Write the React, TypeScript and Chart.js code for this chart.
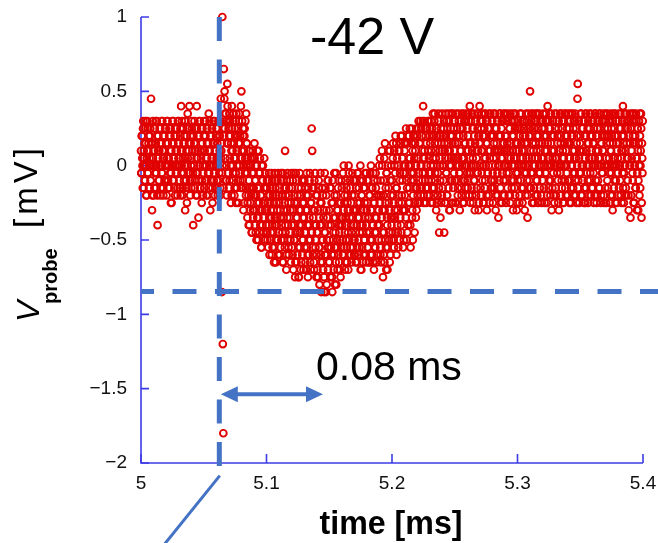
import React, { useEffect, useRef } from "react";
import { Chart, registerables } from "chart.js";

Chart.register(...registerables);

// ---- data: probe signal in ADC counts of 0.05 mV ----
// "even" samples at start + i*0.4 µs, "odd" samples at start + 0.2 µs + i*0.4 µs
const MV_PER_COUNT = 0.05;
const SAMPLE_STEP_MS = 0.0004;
const ODD_OFFSET_MS = 0.0002;
const SEGMENT_STARTS_MS = [5.0, 5.1, 5.2, 5.3];

const probeSeg1 = [
  2,-1,4,0,5,-3,1,3,-2,6,0,-4,2,5,-1,3,-3,1,4,-2,9,0,-6,3,1,
  -4,5,2,-1,6,-3,0,4,-8,2,1,-2,5,3,-4,0,6,-1,2,-3,4,1,-2,5,0,
  3,-4,1,6,-2,0,4,-3,2,5,-1,-5,3,0,6,-2,1,4,-4,2,-1,5,0,-3,3,
  6,-2,1,4,-4,8,0,2,-3,5,-1,3,6,-6,1,-2,4,0,7,-3,2,5,-1,-4,3,
  1,6,-2,4,-8,0,3,-3,5,2,-1,8,-4,1,4,-2,6,0,-3,2,5,-5,3,0,-1,
  4,-3,2,6,0,-2,5,1,-4,3,7,-1,2,-6,4,0,5,-3,1,6,-2,3,-4,2,0,
  5,-2,3,-4,6,1,-1,4,-3,9,2,-17,20,-24,-36,13,9,5,-2,7,0,-4,11,3,6,
  -3,7,1,4,-5,2,8,0,-2,6,3,-4,5,1,-1,7,-3,2,4,-5,6,0,3,-2,8,
  10,1,-3,5,-6,2,4,-1,6,-4,0,3,-7,1,-4,-2,-8,2,-5,0,-3,-9,1,-6,-1,
  -4,3,-8,-2,0,-10,-5,2,-3,-7,-1,-9,1,-6,-4,-11,-2,-8,0,-5,-3,-10,-6,-1,-9,
];
const probeSeg2 = [
  -6,-2,-10,-4,-8,-1,-12,-5,-3,-9,-7,-2,-11,-4,-6,-13,-1,-8,-3,-10,-5,-7,-2,-12,-4,
  -9,-3,-6,-11,-1,-8,-4,-13,-2,-7,-10,-5,2,-9,-3,-12,-6,-1,-8,-11,-4,-7,-2,-10,-5,
  -8,-3,-12,-6,-1,-10,-5,-15,-9,-2,-13,-7,-4,-11,-15,-6,-1,-9,-14,-3,-8,-12,-5,-10,-2,
  -7,-11,-3,-9,-14,-1,-6,-12,-4,-10,-8,-2,-13,-5,-9,5,2,-11,-7,-3,-14,-6,-1,-10,-8,
  -12,-4,-9,-15,-2,-7,-11,-5,-13,-17,-8,-3,-10,-14,-6,-17,-1,-9,-12,-4,-16,-7,-11,-2,-13,
  -6,-10,-15,-3,-8,-12,-17,-5,-9,-14,-1,-11,-7,-13,-16,-4,-10,-6,-12,-2,-9,-14,-8,-5,-11,
  -3,-10,-7,-12,0,-5,-9,-13,-2,-8,-11,-4,-6,-14,-1,-10,-7,-3,-12,-5,-9,-1,-11,-6,-8,
  -4,-12,-2,-9,-6,-13,-1,-7,-10,-3,-11,-5,0,-8,-14,-4,-9,-2,-12,-6,-10,-3,-7,-13,-1,
  -9,-5,-11,-2,-7,-13,-4,-10,0,-6,-12,-3,-8,-1,-14,-5,-9,-11,-3,-7,-12,-2,-6,-10,-4,
  -8,1,-12,-4,-10,2,-6,-15,-2,-9,-13,3,-5,-11,-1,-7,-14,0,-3,-10,-6,2,-12,-4,-8,
];
const probeSeg3 = [
  -2,-9,3,-5,-11,0,-7,4,-3,-12,1,-6,-9,2,-4,-10,-1,3,-8,-5,4,-2,-11,0,-6,
  2,-6,-1,5,-10,-3,3,-8,0,4,-5,1,-11,-2,5,-7,2,-4,-1,4,-9,3,-3,0,-6,
  4,-4,1,6,-2,-5,3,0,5,-3,2,-1,8,-4,6,1,-2,4,-5,0,5,-3,2,6,-1,
  -4,3,0,6,-2,5,-5,1,4,-3,7,-1,2,-6,5,0,-4,3,6,-9,1,-2,4,-5,2,
  7,-3,0,5,-9,2,-5,4,-1,6,-4,3,1,7,-6,2,-2,5,0,-5,4,7,-3,1,6,
  -2,3,-5,7,0,4,-4,1,6,-1,-6,5,2,-3,7,0,-5,4,1,6,-2,3,-4,7,0,
  5,-3,2,6,-1,8,-5,3,0,7,-4,1,5,-2,4,-6,6,0,2,-3,7,-1,4,-5,3,
  0,6,-4,2,7,-2,4,-5,1,5,-3,7,0,3,-6,6,-1,2,-4,5,1,7,-3,4,-2,
  6,-5,1,3,-2,7,0,-4,5,2,-1,6,-7,4,0,7,-3,2,5,-5,1,6,-2,3,-4,
  7,0,-5,4,2,-3,6,1,-1,5,-4,7,3,-2,0,6,-6,4,1,-3,5,7,-1,2,-5,
];
const probeSeg4 = [
  3,-2,6,0,-4,5,1,7,-3,2,-5,4,0,6,-1,3,-4,7,1,-2,-7,5,0,4,-3,
  10,2,-1,6,-5,3,7,0,-3,5,1,-4,6,2,-2,7,-5,4,0,3,-1,6,-4,1,5,
  -2,7,0,4,-5,3,6,-1,2,-4,8,1,-3,5,0,7,-2,3,-6,4,1,6,-4,2,0,
  5,-3,7,1,-1,4,-5,6,2,0,-4,3,7,-2,5,1,-5,6,0,3,-3,7,2,-1,4,
  -4,6,1,5,-2,3,7,-5,0,4,2,-3,6,1,-1,7,-4,5,3,0,11,-2,6,-5,2,
  4,-1,7,0,-4,5,2,6,-3,1,-5,4,7,0,3,-2,6,-4,1,5,-1,7,2,-3,4,
  0,6,-5,3,1,7,-2,4,-4,5,0,2,-3,6,1,7,-5,3,-1,4,2,6,-4,0,5,
  -3,7,1,4,-2,5,0,6,-5,3,2,7,-1,4,-4,6,1,-3,5,0,7,-2,3,-5,4,
  1,6,-3,5,0,7,-4,2,4,-1,8,3,-5,6,0,2,-3,7,1,-2,5,-4,6,0,3,
  -7,5,2,7,-1,4,-5,6,0,3,-3,7,1,-6,5,2,-2,6,-4,4,0,7,-7,3,-1,
];

const probeSeg1Odd = [
  -1,4,1,-3,6,2,0,-2,5,3,-4,1,6,-1,2,4,-3,0,5,-2,3,1,-4,6,0,
  2,-3,5,0,3,-1,6,-4,1,4,-2,2,0,5,-3,3,-1,6,1,-4,2,4,-2,0,5,
  -2,6,0,3,-3,1,5,-1,4,-5,2,0,6,-2,3,1,-3,5,0,-1,4,2,-4,6,1,
  3,0,-3,5,2,-1,6,-4,1,3,-2,4,0,6,-3,2,-5,5,1,-1,3,8,-2,4,0,
  -3,5,2,-1,4,0,6,-2,3,-4,1,5,-1,2,-7,4,0,6,-3,1,3,-2,5,-4,2,
  6,0,-2,4,1,-4,3,5,-1,2,-3,6,0,4,-2,1,5,-5,3,0,-1,6,2,-3,4,
  1,-3,5,0,-2,4,2,-4,6,1,3,-1,0,5,-3,4,10,7,1,6,-2,3,8,-1,5,
  4,-2,6,0,3,-4,5,2,-1,7,1,-3,4,6,-5,2,0,5,-2,3,7,-1,4,1,-3,
  2,6,-2,4,0,-5,5,1,-3,7,3,-1,-5,0,-8,2,-3,-6,1,-4,-9,-1,2,-7,-3,
  -6,1,-2,-9,-4,0,-7,-3,-10,2,-5,-1,-8,-4,-11,0,-6,-2,-9,-7,1,-5,-10,-3,-8,
];
const probeSeg2Odd = [
  -3,-9,-5,-11,-2,-7,-4,-10,-6,-1,-12,-8,-3,-9,-5,-11,-7,-2,-13,-4,-8,-6,-10,-1,-9,
  -5,-12,-7,-2,-10,-4,-9,-1,-13,-6,-3,-11,-8,-4,-14,-2,-7,-10,-5,-12,-3,-9,-6,-13,-1,
  -11,-6,-2,-14,-8,-4,-10,-13,-1,-7,-5,-12,-9,-3,-15,-8,-11,-4,-6,-13,-2,-10,-7,-14,-5,
  -2,-9,-13,-6,-4,-11,-8,-15,-3,-12,-7,-1,-10,-14,-5,-9,-3,-12,-6,-13,-2,-8,-11,-4,-15,
  -9,-14,-6,-3,-11,-16,-8,-1,-12,-5,-10,-13,-4,-7,-15,-9,-12,-3,-17,-6,-10,-2,-14,-8,-11,
  -13,-3,-8,-11,-5,-15,-2,-10,-7,-12,-4,-16,-9,-1,-11,-6,-14,-3,-8,-13,-5,-10,-15,-7,-2,
  -8,-12,-1,-6,-11,-4,-14,-7,-10,-3,-13,-5,-9,0,-12,-6,-2,-11,-8,-13,-4,-7,-10,-2,-12,
  -10,-6,-13,-3,-8,-11,-5,-1,-12,-7,-9,-2,-14,-6,-4,-11,-8,-13,-3,-10,-5,-1,-12,-8,-6,
  -2,-11,-7,-13,-4,-9,-1,-12,-6,-3,-10,-8,-13,-5,-2,-11,-7,-1,-9,-13,-4,-8,-12,-6,0,
  -5,-11,-2,-13,-7,0,-9,-4,-12,1,-6,-10,-3,-14,-1,-8,-11,2,-5,-9,-13,-2,-7,0,-10,
];
const probeSeg3Odd = [
  -7,1,-4,-10,2,-6,-1,-9,3,-3,-8,0,-11,-5,2,-2,-7,4,-9,-4,1,-6,-1,-10,3,
  -4,0,-7,3,-2,-9,4,-5,1,-3,5,-8,0,-1,3,-6,-10,4,-2,1,-5,2,-7,5,-3,
  1,-5,5,-1,3,-3,6,-4,0,4,-2,6,1,-5,2,-1,5,-3,3,0,-4,6,-2,1,4,
  5,-1,-5,2,4,-3,7,0,-4,6,3,-2,1,5,-5,4,-1,7,-3,2,0,-7,5,3,-4,
  0,4,-2,6,3,-5,1,7,-1,-4,5,2,-3,6,0,-6,4,1,7,-2,3,-5,5,-1,2,
  6,-5,1,-2,5,3,-3,7,0,4,-1,2,6,-4,1,5,-2,7,-5,3,0,-3,6,2,-1,
  -2,4,7,-4,1,3,-1,6,-3,2,5,-5,0,7,-2,3,6,-4,1,-1,5,2,-6,4,8,
  3,-3,5,-1,2,6,-5,0,4,7,-2,1,6,-4,3,-1,5,0,7,-5,2,4,-2,6,-3,
  -1,4,7,-3,2,5,-6,1,3,6,-4,0,2,-2,7,-5,4,1,6,-1,3,-4,7,0,2,
  4,-2,6,-1,3,7,0,-4,2,5,-5,1,6,-3,4,2,7,-2,0,6,-4,3,1,-6,5,
];
const probeSeg4Odd = [
  -1,5,2,-5,4,7,-2,3,0,6,1,-3,5,2,-6,4,0,-1,6,3,-4,7,1,-2,5,
  4,-3,7,1,5,-1,2,-5,6,0,3,7,-2,4,-4,1,5,-1,7,-3,2,6,0,-5,3,
  6,1,-3,5,2,-1,7,4,-5,0,3,6,-2,1,5,-4,7,0,2,-3,6,-1,4,-5,7,
  1,-4,6,0,3,-2,5,-6,2,7,-1,4,0,-3,6,2,-5,1,7,-2,4,-4,0,5,3,
  -2,7,3,-5,1,6,-3,4,0,7,-1,5,-4,2,6,-2,1,-5,4,9,-3,6,1,-1,3,
  7,-4,2,5,-2,0,6,-5,4,1,7,-3,2,-1,5,-5,3,0,7,-2,4,-4,6,1,-3,
  3,-1,5,-4,7,0,2,-5,4,6,-2,1,7,-3,5,0,-4,3,6,-1,2,7,-5,4,0,
  6,-5,3,0,7,-3,4,1,-1,6,-4,2,5,0,-6,3,7,-2,1,4,-5,6,0,2,-1,
  -4,3,7,0,-2,5,1,-5,6,2,-3,4,-1,7,0,5,-4,3,6,-2,1,-6,4,7,0,
  5,-4,1,6,-2,3,7,-5,0,4,-3,6,1,-1,5,-6,3,0,7,-3,2,5,-5,1,6,
];

// axes
const X_MIN = 5.0, X_MAX = 5.4, X_STEP = 0.1;
const Y_MIN = -2, Y_MAX = 1, Y_STEP = 0.5;

// annotations (data coordinates)
const triggerTime = 5.0624;
const thresholdLevel = -0.846;
const delayArrowLevel = -1.537;
const delayArrowFrom = 5.0636;
const delayArrowTo = 5.145;
const pointerFrom = { x: 5.0628, y: -2.085 };
const pointerTo = { x: 5.0155, y: -2.58 };

const biasLabel = "-42 V";
const delayLabel = "0.08 ms";
const xTitle = "time [ms]";

const BLUE = "#4472C4";
const AXIS_BLUE = "#3c3ce6";
const RED = "#e00000";
const FONT = '"Liberation Sans", Arial, sans-serif';

const overlayPlugin = {
  id: "overlay",
  beforeDatasetsDraw(chart: any) {
    const { ctx, chartArea: a, scales } = chart;
    const x = scales.x, y = scales.y;
    ctx.save();
    ctx.strokeStyle = AXIS_BLUE;
    ctx.lineWidth = 1.6;
    ctx.beginPath();
    ctx.moveTo(a.left, y.getPixelForValue(Y_MAX));
    ctx.lineTo(a.left, a.bottom);
    ctx.lineTo(x.getPixelForValue(X_MAX), a.bottom);
    ctx.stroke();
    ctx.beginPath();
    for (const t of x.ticks) {
      const px = x.getPixelForValue(t.value);
      ctx.moveTo(px, a.bottom);
      ctx.lineTo(px, a.bottom - 9);
    }
    for (const t of y.ticks) {
      const py = y.getPixelForValue(t.value);
      ctx.moveTo(a.left, py);
      ctx.lineTo(a.left + 8, py);
    }
    ctx.stroke();
    ctx.restore();
  },
  afterDatasetsDraw(chart: any) {
    const { ctx, chartArea: a, scales } = chart;
    const x = scales.x, y = scales.y;
    ctx.save();
    ctx.strokeStyle = BLUE;
    ctx.fillStyle = BLUE;
    ctx.lineWidth = 5;
    ctx.setLineDash([24, 18.5]);
    ctx.lineDashOffset = 11;
    const hy = y.getPixelForValue(thresholdLevel);
    ctx.beginPath();
    ctx.moveTo(a.left, hy);
    ctx.lineTo(chart.width, hy);
    ctx.stroke();
    ctx.lineDashOffset = 0;
    const vx = x.getPixelForValue(triggerTime);
    ctx.beginPath();
    ctx.moveTo(vx, y.getPixelForValue(Y_MAX));
    ctx.lineTo(vx, y.getPixelForValue(-2.02));
    ctx.stroke();
    ctx.setLineDash([]);
    ctx.lineWidth = 3;
    ctx.beginPath();
    ctx.moveTo(x.getPixelForValue(pointerFrom.x), y.getPixelForValue(pointerFrom.y));
    ctx.lineTo(x.getPixelForValue(pointerTo.x), y.getPixelForValue(pointerTo.y));
    ctx.stroke();
    const ay = y.getPixelForValue(delayArrowLevel);
    const x1 = x.getPixelForValue(delayArrowFrom);
    const x2 = x.getPixelForValue(delayArrowTo);
    const hl = 17, hw = 8;
    ctx.lineWidth = 4;
    ctx.beginPath();
    ctx.moveTo(x1 + hl - 2, ay);
    ctx.lineTo(x2 - hl + 2, ay);
    ctx.stroke();
    ctx.beginPath();
    ctx.moveTo(x1, ay);
    ctx.lineTo(x1 + hl, ay - hw);
    ctx.lineTo(x1 + hl, ay + hw);
    ctx.closePath();
    ctx.fill();
    ctx.beginPath();
    ctx.moveTo(x2, ay);
    ctx.lineTo(x2 - hl, ay - hw);
    ctx.lineTo(x2 - hl, ay + hw);
    ctx.closePath();
    ctx.fill();
    ctx.restore();
  },
  afterDraw(chart: any) {
    const { ctx } = chart;
    ctx.save();
    ctx.fillStyle = "#000";
    ctx.textAlign = "left";
    ctx.textBaseline = "alphabetic";
    ctx.font = `52px ${FONT}`;
    ctx.fillText(biasLabel, 310, 54);
    ctx.font = `41px ${FONT}`;
    ctx.fillText(delayLabel, 316, 380);
    ctx.textAlign = "center";
    ctx.font = `bold 34px ${FONT}`;
    ctx.fillText(xTitle, 391, 534, 143);
    ctx.textAlign = "left";
    ctx.save();
    ctx.translate(39, 322);
    ctx.rotate(-Math.PI / 2);
    ctx.font = `italic 32px ${FONT}`;
    ctx.fillText("V", 0, 0);
    ctx.restore();
    ctx.save();
    ctx.translate(57, 304);
    ctx.rotate(-Math.PI / 2);
    ctx.font = `bold 20px ${FONT}`;
    ctx.fillText("probe", 0, 0);
    ctx.restore();
    ctx.save();
    ctx.translate(37, 228);
    ctx.rotate(-Math.PI / 2);
    ctx.font = `33px ${FONT}`;
    (ctx as any).letterSpacing = "4px";
    ctx.fillText("[mV]", 0, 0);
    ctx.restore();
    ctx.restore();
  },
};

export default function App() {
  const canvasRef = useRef<HTMLCanvasElement | null>(null);

  useEffect(() => {
    const canvas = canvasRef.current;
    if (!canvas) return;
    const even = [probeSeg1, probeSeg2, probeSeg3, probeSeg4];
    const odd = [probeSeg1Odd, probeSeg2Odd, probeSeg3Odd, probeSeg4Odd];
    const toPoints = (segs: number[][], offset: number) =>
      segs.flatMap((seg, s) =>
        seg.map((c, i) => ({ x: SEGMENT_STARTS_MS[s] + offset + i * SAMPLE_STEP_MS, y: c * MV_PER_COUNT }))
      );
    const points = [...toPoints(even, 0), ...toPoints(odd, ODD_OFFSET_MS)].sort((p, q) => p.x - q.x);
    const chart = new Chart(canvas, {
      type: "scatter",
      data: {
        datasets: [
          {
            data: points,
            showLine: false,
            pointStyle: "circle",
            pointRadius: 3.4,
            pointBorderWidth: 1.9,
            borderColor: RED,
            backgroundColor: "rgba(0,0,0,0)",
            clip: false,
          } as any,
        ],
      },
      options: {
        responsive: false,
        animation: false,
        events: [],
        layout: { padding: { top: 17, right: 15, left: 0, bottom: 0 } },
        plugins: { legend: { display: false }, tooltip: { enabled: false } },
        scales: {
          x: {
            type: "linear",
            min: X_MIN,
            max: X_MAX,
            afterFit: (s: any) => { s.height = 80; s.paddingLeft = 0; s.paddingRight = 0; },
            grid: { display: false, drawTicks: false },
            border: { display: false },
            ticks: {
              stepSize: X_STEP,
              padding: 9,
              maxRotation: 0,
              autoSkip: false,
              color: "#111",
              font: { family: FONT, size: 19 },
              callback: (v: any) => String(Math.round(Number(v) * 10) / 10),
            },
          },
          y: {
            type: "linear",
            min: Y_MIN,
            max: Y_MAX,
            afterFit: (s: any) => { s.width = 141; s.paddingTop = 0; s.paddingBottom = 0; },
            grid: { display: false, drawTicks: false },
            border: { display: false },
            ticks: {
              stepSize: Y_STEP,
              padding: 14,
              autoSkip: false,
              color: "#111",
              font: { family: FONT, size: 19 },
              callback: (v: any) => String(Math.round(Number(v) * 10) / 10).replace("-", "\u2212"),
            },
          },
        },
      },
      plugins: [overlayPlugin],
    });
    return () => chart.destroy();
  }, []);

  return (
    <div style={{ position: "absolute", left: 0, top: 0, width: 658, height: 543, background: "#fff" }}>
      <canvas ref={canvasRef} width={658} height={543} style={{ display: "block" }} />
    </div>
  );
}
